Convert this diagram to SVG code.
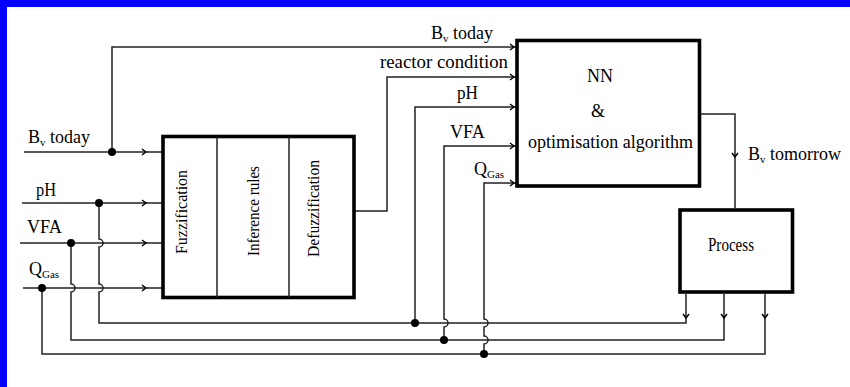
<svg xmlns="http://www.w3.org/2000/svg" xmlns:xlink="http://www.w3.org/1999/xlink" width="850" height="387" viewBox="0 0 850 387">
<style>
.ln{fill:none;stroke:#222;stroke-width:1.5}
.box{fill:#fff;stroke:#000;stroke-width:3.6}
.div{stroke:#222;stroke-width:1.5}
.dot{fill:#000}
.ar{fill:none;stroke:#000;stroke-width:1.4}
text{font-family:"Liberation Serif","Times New Roman",serif;fill:#000;font-size:18px}
.sub{font-size:11px}
.vt{font-size:16px;text-anchor:middle}
</style>
<defs>
<path id="arR" class="ar" d="M-4,-3 L0,0 L-4,3"/>
<path id="arD" class="ar" d="M-3,-4 L0,0 L3,-4"/>
</defs>
<rect x="0" y="0" width="850" height="387" fill="#fff"/>
<rect x="0" y="0" width="850" height="7" fill="#0000ff"/>
<rect x="0" y="0" width="7" height="387" fill="#0000ff"/>

<g id="connectors">
<path class="ln" d="M24,152 H162"/>
<path class="ln" d="M112,152 V47 H516"/>
<path class="ln" d="M22,203 H162"/>
<path class="ln" d="M20,243 H162"/>
<path class="ln" d="M23,288 H162"/>
<path class="ln" d="M355,211 H387 V77 H516"/>
<path class="ln" d="M99,203 V239 A4,4 0 0 1 99,247 V284 A4,4 0 0 1 99,292 V323 H686 V294"/>
<path class="ln" d="M415,323 V107 H516"/>
<path class="ln" d="M71,243 V284 A4,4 0 0 1 71,292 V340 H724 V294"/>
<path class="ln" d="M516,146 H444 V319 A4,4 0 0 1 444,327 V340"/>
<path class="ln" d="M42,288 V354 H765 V294"/>
<path class="ln" d="M516,183 H484 V319 A4,4 0 0 1 484,327 V336 A4,4 0 0 1 484,344 V354"/>
<path class="ln" d="M701,114 H735 V208"/>
<use xlink:href="#arR" transform="translate(146,152)"/>
<use xlink:href="#arR" transform="translate(146,203)"/>
<use xlink:href="#arR" transform="translate(146,243)"/>
<use xlink:href="#arR" transform="translate(146,288)"/>
<use xlink:href="#arR" transform="translate(514,47)"/>
<use xlink:href="#arR" transform="translate(514,77)"/>
<use xlink:href="#arR" transform="translate(514,107)"/>
<use xlink:href="#arR" transform="translate(514,146)"/>
<use xlink:href="#arR" transform="translate(514,183)"/>
<use xlink:href="#arD" transform="translate(735,157)"/>
<use xlink:href="#arD" transform="translate(686,318)"/>
<use xlink:href="#arD" transform="translate(724,318)"/>
<use xlink:href="#arD" transform="translate(765,318)"/>
<circle class="dot" cx="112" cy="152" r="4"/>
<circle class="dot" cx="99" cy="203" r="4"/>
<circle class="dot" cx="71" cy="243" r="4"/>
<circle class="dot" cx="42" cy="288" r="4"/>
<circle class="dot" cx="415" cy="323" r="4"/>
<circle class="dot" cx="444" cy="340" r="4"/>
<circle class="dot" cx="484" cy="354" r="4"/>
</g>

<g id="labels">
<text x="28" y="143">B<tspan class="sub" dy="3">v</tspan><tspan dy="-3"> today</tspan></text>
<text x="36" y="196" textLength="20" lengthAdjust="spacingAndGlyphs">pH</text>
<text x="27" y="233" textLength="35" lengthAdjust="spacingAndGlyphs">VFA</text>
<text x="29" y="275">Q<tspan class="sub" dy="3">Gas</tspan></text>
<text x="431" y="39">B<tspan class="sub" dy="3">v</tspan><tspan dy="-3"> today</tspan></text>
<text x="380" y="68" textLength="128" lengthAdjust="spacingAndGlyphs">reactor condition</text>
<text x="457" y="99" textLength="21" lengthAdjust="spacingAndGlyphs">pH</text>
<text x="450" y="138" textLength="35" lengthAdjust="spacingAndGlyphs">VFA</text>
<text x="474" y="175">Q<tspan class="sub" dy="3">Gas</tspan></text>
<text x="748" y="160">B<tspan class="sub" dy="3">v</tspan><tspan dy="-3"> tomorrow</tspan></text>
</g>

<g id="fuzzy">
<rect class="box" x="163" y="136.5" width="191" height="161"/>
<line class="div" x1="217" y1="137" x2="217" y2="297"/>
<line class="div" x1="289" y1="137" x2="289" y2="297"/>
<text class="vt" transform="translate(187,212) rotate(-90)" textLength="84" lengthAdjust="spacingAndGlyphs">Fuzzification</text>
<text class="vt" transform="translate(259,211) rotate(-90)" textLength="90" lengthAdjust="spacingAndGlyphs">Inference rules</text>
<text class="vt" transform="translate(319,208.5) rotate(-90)" textLength="97" lengthAdjust="spacingAndGlyphs">Defuzzification</text>
</g>

<g id="nn">
<rect class="box" x="517" y="40.5" width="182.5" height="145.5"/>
<text x="600" y="82" font-size="20" text-anchor="middle">NN</text>
<text x="598" y="117" font-size="17" text-anchor="middle">&amp;</text>
<text x="528" y="148" textLength="165" lengthAdjust="spacingAndGlyphs">optimisation algorithm</text>
</g>

<g id="process">
<rect class="box" x="680" y="210" width="112.5" height="82"/>
<text x="708" y="251" font-size="14" textLength="46" lengthAdjust="spacingAndGlyphs">Process</text>
</g>
</svg>
